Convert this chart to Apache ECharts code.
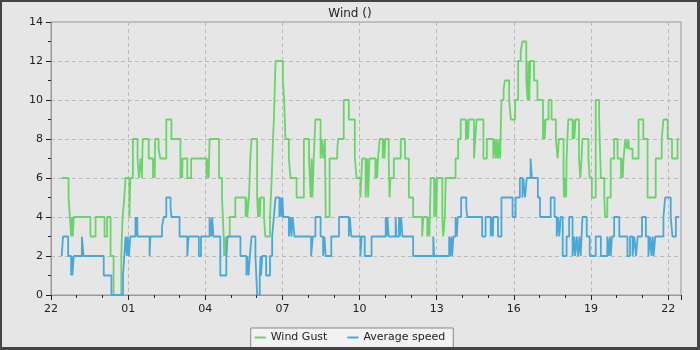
<!DOCTYPE html>
<html><head><meta charset="utf-8">
<script src="https://cdn.jsdelivr.net/npm/echarts@6/dist/echarts.min.js"></script>
<style>html,body{margin:0;padding:0;background:#e6e6e6}#c{width:700px;height:350px}</style>
</head><body><div id="c"></div>
<script>
const chartTitle = 'Wind ()';
const seriesNames = ['Wind Gust', 'Average speed'];
const xTickLabels = ['22','01','04','07','10','13','16','19','22'];
const gustTimes = ['22:25','22:41','22:44','22:47','22:49','22:51','22:53','23:32','23:44','00:05','00:11','00:19','00:26','00:44','00:47','00:51','00:54','01:03','01:05','01:11','01:22','01:25','01:29','01:32','01:34','01:48','01:58','02:00','02:02','02:03','02:11','02:15','02:29','02:41','03:02','03:04','03:06','03:07','03:18','03:27','04:03','04:06','04:08','04:10','04:32','04:39','04:43','04:44','04:48','04:49','04:51','04:57','05:10','05:34','05:36','05:38','05:42','05:45','05:48','06:01','06:03','06:06','06:07','06:09','06:17','06:20','06:31','06:35','06:38','06:40','06:44','07:01','07:04','07:07','07:15','07:19','07:33','07:50','08:02','08:06','08:08','08:10','08:13','08:17','08:29','08:32','08:35','08:39','08:41','08:50','09:08','09:10','09:23','09:35','09:49','09:53','10:02','10:06','10:14','10:18','10:20','10:23','10:37','10:40','10:41','10:43','10:47','10:54','10:57','10:58','11:00','11:08','11:10','11:12','11:20','11:36','11:46','11:55','12:05','12:26','12:29','12:38','12:40','12:43','12:46','12:54','12:56','12:59','13:01','13:13','13:15','13:19','13:21','13:44','13:50','13:56','14:08','14:10','14:13','14:15','14:27','14:30','14:33','14:49','14:57','15:12','15:15','15:18','15:20','15:23','15:26','15:28','15:31','15:36','15:39','15:49','15:53','16:03','16:10','16:16','16:20','16:29','16:32','16:34','16:36','16:38','16:47','16:55','17:08','17:11','17:12','17:14','17:21','17:28','17:38','17:42','17:45','17:56','17:57','18:00','18:02','18:03','18:07','18:17','18:19','18:21','18:24','18:32','18:35','18:38','18:40','18:54','18:57','19:02','19:11','19:19','19:23','19:31','19:33','19:38','19:46','19:54','20:02','20:10','20:12','20:14','20:16','20:20','20:24','20:27','20:29','20:37','20:51','21:02','21:12','21:31','21:45','21:49','21:59','22:09','22:22','22:26'];
const gustValues = [6,5,4,3,4,3,4,3,4,3,4,2,0,2,4,5,6,4,6,8,7,6,7,6,8,7,6,7,6,8,7.5,7,9,8,6,7,6,7,6,7,6,7,6,8,6,5,3,2,3,2,3,4,5,4,5,4,5,7,8,5,4,5,4,5,4,3,4,6,8,9,12,11,10,8,7,6,5,8,7,5,7,5,7,9,7,8,7,8,4,7,7.5,8,10,9,7,6,5,7,5,7,5,7,6,7,6,7,8,7,8,7,8,7,5,6,7,8,7,5,4,3,4,3,4,3,6,4,6,4,6,4,3,4,6,7,8,9,8,9,8,9,7,8,9,7,8,7,8,7,8,7,8,7,10,10.5,11,10,9,10,12,12.5,13,11,10,12,10,12,11,10,8,9,8,9,10,9,8,7,8,6,5,6,5,7,9,8,9,8,9,7,6,7,8,7,6,5,10,9,6,5,4,5,7,8,7,6,7,6,7,8,7.5,8,7.5,7,9,8,5,7,8,9,8,7,8,8];
const avgTimes = ['22:25','22:28','22:40','22:47','22:48','22:50','22:53','23:12','23:16','00:03','00:21','00:48','00:51','00:54','00:57','00:59','01:02','01:05','01:17','01:19','01:21','01:22','01:50','01:52','02:19','02:23','02:29','02:39','02:41','03:00','03:18','03:21','03:45','03:50','04:10','04:14','04:16','04:19','04:35','04:49','04:52','05:22','05:36','05:38','05:41','05:44','05:48','05:57','06:01','06:07','06:09','06:10','06:13','06:22','06:31','06:36','06:40','06:44','06:53','06:56','06:58','07:00','07:02','07:15','07:19','07:21','07:24','07:28','08:07','08:11','08:17','08:29','08:35','08:38','08:41','08:54','09:12','09:35','09:37','09:41','10:02','10:05','10:12','10:28','11:01','11:03','11:05','11:08','11:24','11:26','11:32','11:34','11:37','11:40','12:05','12:52','12:54','13:29','13:31','13:34','13:36','13:39','13:44','13:47','13:49','13:57','14:09','14:11','14:46','14:54','15:06','15:08','15:11','15:12','15:23','15:31','15:57','16:04','16:14','16:20','16:22','16:26','16:30','16:39','16:42','16:56','17:01','17:26','17:35','17:40','17:43','17:46','17:49','17:54','18:03','18:09','18:17','18:21','18:23','18:27','18:30','18:33','18:36','18:40','18:50','18:57','19:11','19:23','19:38','19:41','19:44','19:46','19:49','19:54','20:06','20:25','20:31','20:37','20:41','20:45','20:49','20:59','21:08','21:14','21:18','21:21','21:24','21:26','21:30','21:49','21:53','22:06','22:10','22:18','22:26'];
const avgValues = [2,3,2,1,2,1,2,3,2,1,0,1,2,3,2,3,2,3,4,3,4,3,2,3,3.5,4,5,4.5,4,3,2,3,2,3,4,3,4,3,1,2,3,2,1,2,1,2,3,2,0,1,2,1,2,1,2,3,4,5,4,5,4,5,4,3,4,3,4,3,2,3,4,3,2,3,2,3,4,3,4,3,2,3,2,3,4,3,4,3,4,3,4,3,4,3,2,3,2,3,2,3,2,3,4,3,4,5,4.5,4,3,4,3,4,3,4,3,5,4,5,6,5,6,5,6,7,6,5,4,5,4,3,4,3,4,2,3,4,2,3,2,3,2,3,2,4,3,2,3,2,3,2,3,2,3,4,3,2,3,2,3,2,3,4,3,2,3,2,3,2,3,4,5,4,3,4,4];

// hours elapsed since 22:00 of the first day (times are in order; wrap past midnight)
function toHours(times) {
  let prev = -1;
  return times.map(s => {
    const [h, m] = s.split(':').map(Number);
    let r = ((h * 60 + m) - 1320 + 1440) % 1440;
    if (r < prev) r += 1440;
    prev = r;
    return r / 60;
  });
}
const gustX = toHours(gustTimes), avgX = toHours(avgTimes);
const gustData = gustX.map((x, i) => [x, gustValues[i]]);
const avgData = avgX.map((x, i) => [x, avgValues[i]]);

const FONT = 'DejaVu Sans';
const BORDER = '#444';
const chart = echarts.init(document.getElementById('c'));
chart.setOption({
  animation: false,
  backgroundColor: '#e6e6e6',
  textStyle: { fontFamily: FONT },
  title: { text: chartTitle, left: 'center', top: 3,
    textStyle: { fontFamily: FONT, fontSize: 12, fontWeight: 'normal', color: '#222' } },
  graphic: [
    { type: 'rect', left: 0, top: 0, shape: { width: 700, height: 2 }, style: { fill: BORDER }, silent: true, z: 100 },
    { type: 'rect', left: 0, top: 0, shape: { width: 2, height: 350 }, style: { fill: BORDER }, silent: true, z: 100 },
    { type: 'rect', right: 0, top: 0, shape: { width: 3, height: 350 }, style: { fill: BORDER }, silent: true, z: 100 },
    { type: 'rect', left: 0, bottom: 0, shape: { width: 700, height: 3 }, style: { fill: BORDER }, silent: true, z: 100 }
  ],
  legend: {
    bottom: 2, left: 'center',
    data: seriesNames.map(n => ({ name: n, icon: 'rect' })),
    itemWidth: 11, itemHeight: 2, itemGap: 20,
    backgroundColor: '#f2f2f2', borderColor: '#888', borderWidth: 1, borderRadius: 0,
    padding: [4, 8, 5, 4],
    textStyle: { fontFamily: FONT, fontSize: 11, color: '#222' }
  },
  grid: { left: 51, right: 19, top: 22, bottom: 55, show: true,
    backgroundColor: '#e6e6e6', borderColor: '#999', borderWidth: 1 },
  xAxis: {
    type: 'value', min: 0, max: 24.5, interval: 3,
    axisLine: { show: true, lineStyle: { color: '#999' } },
    axisTick: { show: true, length: 5, lineStyle: { color: '#222' } },
    minorTick: { show: true, splitNumber: 3, length: 3, lineStyle: { color: '#222' } },
    splitLine: { show: true, lineStyle: { color: '#bbb', type: [4, 3] } },
    axisLabel: { fontFamily: FONT, fontSize: 11, color: '#222', margin: 9, showMaxLabel: false,
      formatter: v => xTickLabels[Math.round(v / 3)] }
  },
  yAxis: {
    type: 'value', min: 0, max: 14, interval: 2,
    axisLine: { show: true, lineStyle: { color: '#999' } },
    axisTick: { show: true, length: 5, lineStyle: { color: '#222' } },
    minorTick: { show: true, splitNumber: 2, length: 3, lineStyle: { color: '#222' } },
    splitLine: { show: true, lineStyle: { color: '#bbb', type: [4, 3] } },
    axisLabel: { fontFamily: FONT, fontSize: 11, color: '#222', margin: 8 }
  },
  series: [
    { name: seriesNames[0], type: 'line', step: 'end', data: gustData, showSymbol: false,
      color: '#6ad46a', lineStyle: { width: 1.8, color: '#6ad46a' }, z: 2 },
    { name: seriesNames[1], type: 'line', step: 'end', data: avgData, showSymbol: false,
      color: '#4aa8d8', lineStyle: { width: 1.8, color: '#4aa8d8' }, z: 3 }
  ]
});
</script></body></html>
